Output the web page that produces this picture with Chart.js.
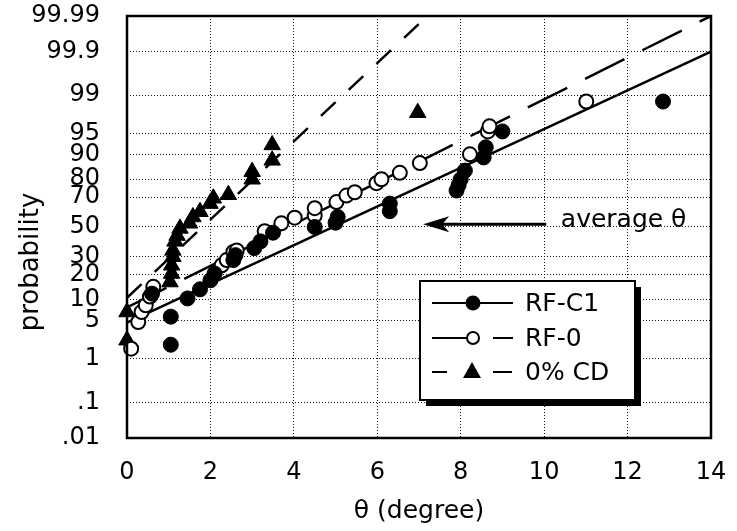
<!DOCTYPE html>
<html><head><meta charset="utf-8">
<script src="https://cdn.jsdelivr.net/npm/chart.js@4.4.0/dist/chart.umd.min.js"></script>
<style>html,body{margin:0;padding:0;background:#fff}#wrap{width:737px;height:531px;position:relative}</style>
</head><body><div id="wrap"><canvas id="c"></canvas></div>
<script>
// ---- tick definitions ----
const probTicks = [0.01, 0.1, 1, 5, 10, 20, 30, 50, 70, 80, 90, 95, 99, 99.9, 99.99];
const probTickLabels = ['.01', '.1', '1', '5', '10', '20', '30', '50', '70', '80', '90', '95', '99', '99.9', '99.99'];
const thetaTicks = [0, 2, 4, 6, 8, 10, 12, 14];

// ---- RF-C1 (filled circles) ----
const rfc1Theta = [0.6, 1.05, 1.05, 1.45, 1.75, 2.0, 2.1, 2.55, 2.6, 3.05, 3.2, 3.5, 4.5, 5.0, 5.05, 6.3, 6.3, 7.9, 7.95, 8.0, 8.1, 8.55, 8.6, 9.0, 12.85];
const rfc1Prob  = [12, 1.9, 5.7, 10.4, 13.6, 17.4, 20.6, 28, 31, 35.5, 40, 46, 50, 53, 57, 61, 66, 74, 77, 80, 84, 89, 92, 95.4, 98.65];

// ---- RF-0 (open circles) ----
const rf0Theta = [0.1, 0.27, 0.35, 0.45, 0.55, 0.63, 2.27, 2.39, 2.55, 2.63, 3.3, 3.7, 4.02, 4.5, 4.5, 5.02, 5.26, 5.46, 5.98, 6.1, 6.54, 7.02, 8.22, 8.65, 8.69, 11.01];
const rf0Prob  = [1.6, 4.7, 6.7, 8.4, 11, 14.6, 25, 28, 33, 34, 47, 52.6, 56.5, 58, 63, 67, 71, 73, 78, 80, 83, 87, 90, 95.4, 96.2, 98.65];

// ---- 0% CD (triangles) ----
const cdTheta = [0, 0, 1.03, 1.07, 1.07, 1.1, 1.1, 1.15, 1.2, 1.27, 1.5, 1.58, 1.75, 1.99, 2.07, 2.43, 3.0, 3.0, 3.48, 3.48, 6.97];
const cdProb  = [2.3, 6.7, 16.6, 20.6, 25, 30, 34, 40, 44, 49, 52.6, 57, 60.6, 66, 69.4, 71.5, 80, 83.5, 88, 92.6, 97.8];

// ---- fitted lines (end points) ----
const rfc1FitTheta = [0, 14];
const rfc1FitProb  = [4.6, 99.9];
const rf0FitTheta  = [0, 14];
const rf0FitProb   = [7.8, 99.99];
const cdFitTheta   = [0, 7.2];
const cdFitProb    = [10.6, 99.99];

// ---- annotation ----
const annotText = 'average θ';
const annotProb = 52;
const annotArrowFrom = 10.05, annotArrowTo = 7.1, annotTextTheta = 10.4;

// inverse normal CDF (probability paper transform), input in percent
function probit(pct) {
  const p = pct / 100;
  const a = [-3.969683028665376e+01, 2.209460984245205e+02, -2.759285104469687e+02, 1.383577518672690e+02, -3.066479806614716e+01, 2.506628277459239e+00];
  const b = [-5.447609879822406e+01, 1.615858368580409e+02, -1.556989798598866e+02, 6.680131188771972e+01, -1.328068155288572e+01];
  const c = [-7.784894002430293e-03, -3.223964580411365e-01, -2.400758277161838e+00, -2.549671348593591e+00, 4.374664141464968e+00, 2.938163982698783e+00];
  const d = [7.784695709041462e-03, 3.224671290700398e-01, 2.445134137142996e+00, 3.754408661907416e+00];
  const pl = 0.02425, ph = 1 - pl;
  let q, r;
  if (p < pl) { q = Math.sqrt(-2 * Math.log(p)); return (((((c[0]*q+c[1])*q+c[2])*q+c[3])*q+c[4])*q+c[5]) / ((((d[0]*q+d[1])*q+d[2])*q+d[3])*q+1); }
  if (p > ph) { q = Math.sqrt(-2 * Math.log(1 - p)); return -(((((c[0]*q+c[1])*q+c[2])*q+c[3])*q+c[4])*q+c[5]) / ((((d[0]*q+d[1])*q+d[2])*q+d[3])*q+1); }
  q = p - 0.5; r = q * q;
  return (((((a[0]*r+a[1])*r+a[2])*r+a[3])*r+a[4])*r+a[5])*q / (((((b[0]*r+b[1])*r+b[2])*r+b[3])*r+b[4])*r+1);
}
const toPts = (xs, ps) => xs.map((x, i) => ({ x: x, y: probit(ps[i]) }));

const FONT = 'DejaVu Sans';

const overlay = {
  id: 'overlay',
  afterDatasetsDraw(chart) {
    const ctx = chart.ctx, a = chart.chartArea;
    const xs = chart.scales.x, ys = chart.scales.y;
    ctx.save();
    // frame
    ctx.strokeStyle = '#000'; ctx.lineWidth = 2.5; ctx.setLineDash([]);
    ctx.strokeRect(a.left, a.top, a.right - a.left, a.bottom - a.top);
    // annotation arrow
    const ay = ys.getPixelForValue(probit(annotProb));
    const x0 = xs.getPixelForValue(annotArrowFrom), x1 = xs.getPixelForValue(annotArrowTo);
    ctx.lineWidth = 3;
    ctx.beginPath(); ctx.moveTo(x0, ay); ctx.lineTo(x1 + 18, ay); ctx.stroke();
    ctx.fillStyle = '#000';
    ctx.beginPath(); ctx.moveTo(x1, ay); ctx.lineTo(x1 + 26, ay - 8); ctx.lineTo(x1 + 19, ay); ctx.lineTo(x1 + 26, ay + 8); ctx.closePath(); ctx.fill();
    ctx.font = '25px "' + FONT + '"'; ctx.textBaseline = 'alphabetic'; ctx.textAlign = 'left';
    ctx.fillText(annotText, xs.getPixelForValue(annotTextTheta), ys.getPixelForValue(probit(50)));
    // y title
    ctx.save(); ctx.translate(31, 262); ctx.rotate(-Math.PI / 2);
    ctx.textAlign = 'center'; ctx.textBaseline = 'middle'; ctx.font = '26px "' + FONT + '"';
    ctx.fillText('probability', 0, 0); ctx.restore();
    // legend
    const L = 420, T = 281, W = 215, H = 119;
    ctx.fillStyle = '#000'; ctx.fillRect(L + 6, T + 6, W, H);
    ctx.fillStyle = '#fff'; ctx.fillRect(L, T, W, H);
    ctx.lineWidth = 2; ctx.strokeStyle = '#000'; ctx.strokeRect(L, T, W, H);
    const rows = [303, 338, 372];
    const ds = chart.data.datasets;
    ctx.lineWidth = 2;
    ctx.beginPath(); ctx.moveTo(432, rows[0]); ctx.lineTo(513, rows[0]); ctx.stroke();
    ctx.fillStyle = '#000'; ctx.beginPath(); ctx.arc(473, rows[0], 7.5, 0, Math.PI * 2); ctx.fill();
    ctx.beginPath(); ctx.moveTo(432, rows[1]); ctx.lineTo(467, rows[1]); ctx.moveTo(493, rows[1]); ctx.lineTo(513, rows[1]); ctx.stroke();
    ctx.fillStyle = '#fff'; ctx.beginPath(); ctx.arc(473, rows[1], 6, 0, Math.PI * 2); ctx.fill(); ctx.stroke();
    ctx.beginPath(); ctx.moveTo(432, rows[2]); ctx.lineTo(447, rows[2]); ctx.moveTo(493, rows[2]); ctx.lineTo(512, rows[2]); ctx.stroke();
    ctx.fillStyle = '#000'; ctx.beginPath(); ctx.moveTo(472, rows[2] - 10); ctx.lineTo(481, rows[2] + 6); ctx.lineTo(463, rows[2] + 6); ctx.closePath(); ctx.fill();
    ctx.font = '25px "' + FONT + '"'; ctx.textBaseline = 'middle'; ctx.textAlign = 'left'; ctx.fillStyle = '#000';
    for (let i = 0; i < 3; i++) ctx.fillText(ds[i].label, 525, rows[i] + 1);
    ctx.restore();
  }
};

new Chart(document.getElementById('c'), {
  type: 'scatter',
  data: {
    datasets: [
      { label: 'RF-C1', data: toPts(rfc1Theta, rfc1Prob), pointStyle: 'circle', pointRadius: 7.5, backgroundColor: '#000', borderColor: '#000', borderWidth: 1, clip: false },
      { label: 'RF-0', data: toPts(rf0Theta, rf0Prob), pointStyle: 'circle', pointRadius: 7, backgroundColor: '#fff', borderColor: '#000', borderWidth: 2, clip: false },
      { label: '0% CD', data: toPts(cdTheta, cdProb), pointStyle: 'triangle', pointRadius: 9.5, backgroundColor: '#000', borderColor: '#000', borderWidth: 1, clip: false },
      { label: 'fit RF-C1', data: toPts(rfc1FitTheta, rfc1FitProb), showLine: true, pointRadius: 0, borderColor: '#000', borderWidth: 2.5 },
      { label: 'fit RF-0', data: toPts(rf0FitTheta, rf0FitProb), showLine: true, pointRadius: 0, borderColor: '#000', borderWidth: 2.5, borderDash: [44, 20] },
      { label: 'fit 0% CD', data: toPts(cdFitTheta, cdFitProb), showLine: true, pointRadius: 0, borderColor: '#000', borderWidth: 2.5, borderDash: [20, 18] }
    ]
  },
  options: {
    responsive: true, maintainAspectRatio: false, animation: false,
    layout: { padding: { top: 16, right: 26, left: 0, bottom: 0 } },
    plugins: { legend: { display: false }, tooltip: { enabled: false } },
    scales: {
      x: {
        type: 'linear', min: 0, max: 14,
        afterBuildTicks: s => { s.ticks = thetaTicks.map(v => ({ value: v })); },
        afterFit: s => { s.height = 93; s.paddingLeft = 0; s.paddingRight = 0; },
        ticks: { color: '#000', font: { family: FONT, size: 24 }, padding: 20, maxRotation: 0, autoSkip: false },
        grid: { color: '#111', lineWidth: 1, drawTicks: false },
        border: { display: false, dash: [1, 2] },
        title: { display: true, text: 'θ (degree)', color: '#000', font: { family: FONT, size: 25 }, padding: { top: 0, bottom: 5 } }
      },
      y: {
        type: 'linear', min: probit(0.01), max: probit(99.99),
        afterBuildTicks: s => { s.ticks = probTicks.map(p => ({ value: probit(p) })); },
        afterFit: s => { s.width = 127; s.paddingTop = 0; s.paddingBottom = 0; },
        ticks: { color: '#000', font: { family: FONT, size: 24 }, padding: 27, autoSkip: false, callback: (v, i) => probTickLabels[i] },
        grid: { color: '#111', lineWidth: 1, drawTicks: false },
        border: { display: false, dash: [1, 2] }
      }
    }
  },
  plugins: [overlay]
});
</script></body></html>
